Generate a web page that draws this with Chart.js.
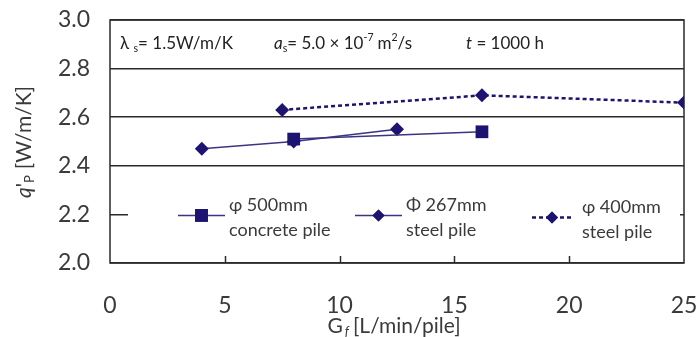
<!DOCTYPE html>
<html>
<head>
<meta charset="utf-8">
<script src="https://cdn.jsdelivr.net/npm/chart.js@4/dist/chart.umd.min.js"></script>
<style>
  html, body { margin: 0; padding: 0; background: #fff; }
  #wrap { width: 699px; height: 337px; }
</style>
</head>
<body>
<div id="wrap"><canvas id="qpChart" width="699" height="337"></canvas></div>
<script>
//-----------------------------------------------------------------------------
// Heat exchange rate per pile against flow rate, three pile types.
//-----------------------------------------------------------------------------

const xTicks = [0, 5, 10, 15, 20, 25];
const yTicks = [2.0, 2.2, 2.4, 2.6, 2.8, 3.0];

const concreteFlow = [8, 16.2];
const concreteQ = [2.51, 2.54];

const steel267Flow = [4, 8, 12.5];
const steel267Q = [2.47, 2.50, 2.55];

const steel400Flow = [7.5, 16.2, 25];
const steel400Q = [2.63, 2.69, 2.66];

const FONT = "Lato, 'DejaVu Sans', sans-serif";
const TEXT = "#3a3a3a";
const LINE = "#2a2a2a";
const NAVY = "#1c1470";
const NAVY_LINE = "#3b3580";

function pairs(xs, ys) {
  return xs.map((x, i) => ({ x: x, y: ys[i] }));
}

//-----------------------------------------------------------------------------
// Draw a row of text pieces, some italic, some lowered or raised.
// Each run: { t, italic, sub, sup }
//-----------------------------------------------------------------------------

function drawRuns(ctx, runs, x, y, size) {
  ctx.textBaseline = "middle";
  ctx.textAlign = "left";
  let cx = x;
  runs.forEach((r) => {
    let s = size;
    let dy = 0;
    if (r.sub) { s = size * 0.62; dy = size * 0.3; }
    if (r.sup) { s = size * 0.62; dy = -size * 0.35; }
    ctx.font = (r.italic ? "italic " : "") + s + "px " + FONT;
    ctx.fillText(r.t, cx, y + dy);
    cx += ctx.measureText(r.t).width + (r.gap || 0);
  });
  return cx;
}

function runsWidth(ctx, runs, size) {
  let w = 0;
  runs.forEach((r) => {
    const s = (r.sub || r.sup) ? size * 0.62 : size;
    ctx.font = (r.italic ? "italic " : "") + s + "px " + FONT;
    w += ctx.measureText(r.t).width + (r.gap || 0);
  });
  return w;
}

//-----------------------------------------------------------------------------
// Frame, inner ticks, legend box, parameter line and axis titles.
//-----------------------------------------------------------------------------

const decorPlugin = {
  id: "decor",
  beforeDatasetsDraw(chart) {
    const ctx = chart.ctx;
    const a = chart.chartArea;
    const xs = chart.scales.x;
    const ys = chart.scales.y;
    ctx.save();

    // inward ticks on the bottom axis
    ctx.strokeStyle = LINE;
    ctx.lineWidth = 1.5;
    xTicks.slice(1, -1).forEach((v) => {
      const px = Math.round(xs.getPixelForValue(v)) + 0.5;
      ctx.beginPath();
      ctx.moveTo(px, a.bottom);
      ctx.lineTo(px, a.bottom - 7);
      ctx.stroke();
    });

    // legend panel over the 2.2 grid line
    const ly = ys.getPixelForValue(2.2);
    ctx.fillStyle = "#fff";
    ctx.fillRect(128, ly - 24, 552, 56);

    const items = [
      { x0: 178, x1: 225, style: "rect", r: 9, dash: [], lines: ["φ 500mm", "concrete pile"], tx: 229 },
      { x0: 355, x1: 402, style: "rectRot", r: 6, dash: [], lines: ["Φ 267mm", "steel pile"], tx: 406 },
      { x0: 532, x1: 572, style: "rectRot", r: 6, dash: [4, 3], lines: ["φ 400mm", "steel pile"], tx: 582 },
    ];
    items.forEach((it, i) => {
      const yy = ly + (i === 2 ? 3 : 1);
      ctx.strokeStyle = i === 2 ? NAVY : NAVY_LINE;
      ctx.lineWidth = i === 2 ? 2.5 : 1.5;
      ctx.setLineDash(it.dash);
      ctx.beginPath();
      ctx.moveTo(it.x0, yy);
      ctx.lineTo(it.x1, yy);
      ctx.stroke();
      ctx.setLineDash([]);
      ctx.fillStyle = NAVY;
      Chart.helpers.drawPoint(ctx, { pointStyle: it.style, radius: it.r, borderWidth: 0 },
        (it.x0 + it.x1) / 2, yy);
      ctx.fill();
      ctx.fillStyle = TEXT;
      ctx.font = "18px " + FONT;
      ctx.textAlign = "left";
      ctx.textBaseline = "middle";
      ctx.fillText(it.lines[0], it.tx, yy - 10);
      ctx.fillText(it.lines[1], it.tx, yy + 15);
    });

    // plot frame
    ctx.strokeStyle = LINE;
    ctx.lineWidth = 1.5;
    ctx.strokeRect(a.left, a.top, a.right - a.left, a.bottom - a.top);

    // parameter line
    ctx.fillStyle = "#222";
    const py = a.top + 24;
    drawRuns(ctx, [{ t: "λ " }, { t: "s", sub: true }, { t: "= 1.5W/m/K" }], 120, py, 17);
    drawRuns(ctx, [{ t: "a", italic: true }, { t: "s", sub: true }, { t: "= 5.0 × 10" },
      { t: "-7", sup: true, gap: 4 }, { t: "m" }, { t: "2", sup: true }, { t: "/s" }], 274, py, 17);
    drawRuns(ctx, [{ t: "t", italic: true }, { t: " = 1000 h" }], 466, py, 17);

    // x axis title
    ctx.fillStyle = TEXT;
    const xt = [{ t: "G", gap: 2 }, { t: "f", italic: true, sub: true, gap: 4 }, { t: "[L/min/pile]" }];
    const xw = runsWidth(ctx, xt, 21);
    drawRuns(ctx, xt, 394 - xw / 2, 326, 21);

    // y axis title, rotated
    ctx.save();
    ctx.translate(24, 142);
    ctx.rotate(-Math.PI / 2);
    const yt = [{ t: "q", italic: true }, { t: "'" }, { t: "P", sub: true, gap: 6 }, { t: "[W/m/K]" }];
    const yw = runsWidth(ctx, yt, 21);
    drawRuns(ctx, yt, -yw / 2, 0, 21);
    ctx.restore();

    ctx.restore();
  },
};

//-----------------------------------------------------------------------------
// Build the chart. The afterFit hooks pin the plot box so tick labels don't
// push it around.
//-----------------------------------------------------------------------------

const ctx = document.getElementById("qpChart").getContext("2d");

new Chart(ctx, {
  type: "scatter",
  data: {
    datasets: [
      {
        label: "φ 500mm concrete pile",
        data: pairs(concreteFlow, concreteQ),
        showLine: true,
        borderColor: NAVY_LINE,
        borderWidth: 1.5,
        pointStyle: "rect",
        pointRadius: 9,
        pointBackgroundColor: NAVY,
        pointBorderWidth: 0,
      },
      {
        label: "Φ 267mm steel pile",
        data: pairs(steel267Flow, steel267Q),
        showLine: true,
        borderColor: NAVY_LINE,
        borderWidth: 1.5,
        pointStyle: "rectRot",
        pointRadius: 7,
        pointBackgroundColor: NAVY,
        pointBorderWidth: 0,
      },
      {
        label: "φ 400mm steel pile",
        data: pairs(steel400Flow, steel400Q),
        showLine: true,
        borderColor: NAVY,
        borderWidth: 2.5,
        borderDash: [4, 3],
        pointStyle: "rectRot",
        pointRadius: 7,
        pointBackgroundColor: NAVY,
        pointBorderWidth: 0,
      },
    ],
  },
  options: {
    responsive: false,
    animation: false,
    layout: { padding: { top: 20, right: 15, left: 0, bottom: 0 } },
    plugins: {
      legend: { display: false },
      tooltip: { enabled: false },
    },
    scales: {
      x: {
        type: "linear",
        min: 0,
        max: 25,
        afterBuildTicks: (s) => { s.ticks = xTicks.map((v) => ({ value: v })); },
        afterFit: (s) => {
          s.height = 74;
          s.paddingLeft = 0;
          s.paddingRight = 0;
        },
        grid: { display: false },
        border: { display: false },
        ticks: { padding: 21, color: TEXT, font: { family: FONT, size: 23 } },
      },
      y: {
        min: 2.0,
        max: 3.0,
        afterBuildTicks: (s) => { s.ticks = yTicks.map((v) => ({ value: v })); },
        afterFit: (s) => {
          s.width = 110;
          s.paddingTop = 0;
          s.paddingBottom = 0;
        },
        grid: { color: LINE, lineWidth: 1.5, drawTicks: false },
        border: { display: false },
        ticks: {
          padding: 20,
          color: TEXT,
          font: { family: FONT, size: 23 },
          callback: (v) => v.toFixed(1),
        },
      },
    },
  },
  plugins: [decorPlugin],
});
</script>
</body>
</html>
